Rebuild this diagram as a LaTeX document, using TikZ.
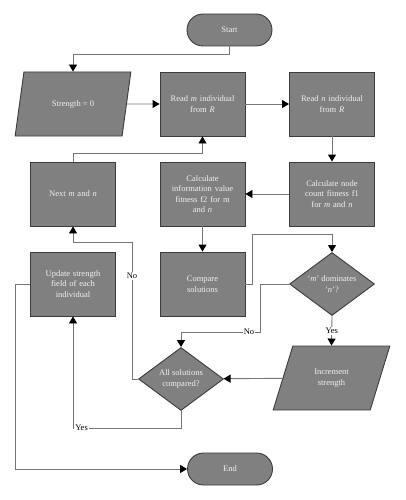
\documentclass[tikz,border=0pt]{standalone}
\usepackage{fontspec}
\setmainfont{Liberation Serif}
\usepackage{tikz}
\usetikzlibrary{shapes.geometric}
\usetikzlibrary{positioning}
\usetikzlibrary{arrows.meta}
\usepackage{xcolor}
\definecolor{boxgray}{HTML}{808080}
\definecolor{edgegray}{HTML}{3C3C3C}
\definecolor{linegray}{HTML}{767676}

\begin{document}
\begin{tikzpicture}[x=1pt, y=-1pt,
    box/.style={draw=edgegray, line width=0.9pt, fill=boxgray, text=black!6, font=\fontsize{8.5}{10.5}\selectfont, align=center},
    proc/.style={box, rectangle, minimum width=85pt, minimum height=64pt, text width=78pt, inner sep=0pt},
    term/.style={box, rectangle, rounded corners=16pt, minimum width=85pt, minimum height=32pt},
    io/.style={box, trapezium, trapezium left angle=64, trapezium right angle=116, trapezium stretches=true, minimum width=116pt, minimum height=64pt, inner sep=0pt},
    decide/.style={box, diamond, aspect=1.35, minimum width=85pt, minimum height=63pt, inner sep=1pt},
    arr/.style={-{Triangle[length=7pt,width=8pt,color=black]}, draw=linegray, line width=0.9pt},
    lbl/.style={fill=white, inner sep=1pt, font=\fontsize{8.5}{10}\selectfont}]
            % strength assignment flow
            \useasboundingbox (0,0) rectangle (405,500);
            \node[term] (start) at (229.5,30) {Start};
            \node[io] (strength) at (73,104) {Strength = 0};
            \node[proc] (readm) at (202.5,104) {Read \emph{m} individual\\from \emph{R}};
            \node[proc] (readn) at (332,104) {Read \emph{n} individual\\from \emph{R}};
            \node[proc] (next) at (73,194) {Next \emph{m} and \emph{n}};
            \node[proc] (infofit) at (202.5,194) {Calculate\\information value\\fitness f2 for m\\and \emph{n}};
            \node[proc] (countfit) at (332,194) {Calculate node\\count fitness f1\\for \emph{m} and \emph{n}};
            \node[proc] (update) at (73,284) {Update strength\\field of each\\individual};
            \node[proc] (compare) at (202.5,284) {Compare\\solutions};
            \node[decide] (dominates) at (332,284) {`\emph{m}' dominates\\`\emph{n}'?};
            \node[decide] (allcomp) at (181,379) {All solutions\\compared?};
            \node[io, minimum width=117pt] (increment) at (331.5,378) {Increment\\strength};
            \node[term] (end) at (230,469) {End};
            
            \draw[arr] (start.south) -- ++(0,8) -| (strength.north);
            \draw[arr] (strength) -- (readm);
            \draw[arr] (readm) -- (readn);
            \draw[arr] (readn) -- (countfit);
            \draw[arr] (countfit) -- (infofit);
            \draw[arr] (infofit) -- (compare);
            \draw[arr] (next.north) -- ++(0,-8) -| (readm.south);
            \draw[arr] (compare.east) -- ++(7,0) -- ++(0,-50) -| (dominates.north);
            \draw[arr] (dominates.west) -- ++(-29,0) -- ++(0,48) -| node[lbl, pos=0.07] {No} (allcomp.north);
            \draw[arr] (dominates.south) -- node[lbl] {Yes} (increment.north);
            \draw[arr] (increment) -- (allcomp);
            \draw[arr] (allcomp.west) -- ++(-6,0) -- ++(0,-137) node[lbl, pos=0.75] {No} -| (next.south);
            \draw[arr] (allcomp.south) -- ++(0,17) -| node[lbl, pos=0.46] {Yes} (update.south);
            \draw[arr] (update.west) -- ++(-15,0) |- (end.west);
        \end{tikzpicture}
\end{document}
